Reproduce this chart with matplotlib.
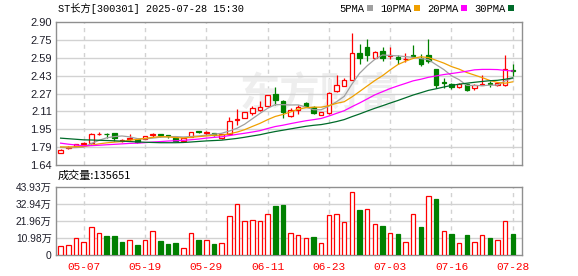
import numpy as np
import matplotlib
matplotlib.use("Agg")
import matplotlib.pyplot as plt
from matplotlib.patches import Patch

# ---------------- data ----------------
dates = ["04-29", "04-30", "05-06", "05-07", "05-08", "05-09", "05-12", "05-13", "05-14", "05-15",
         "05-16", "05-19", "05-20", "05-21", "05-22", "05-23", "05-26", "05-27", "05-28", "05-29",
         "05-30", "06-03", "06-04", "06-05", "06-06", "06-09", "06-10", "06-11", "06-12", "06-13",
         "06-16", "06-17", "06-18", "06-19", "06-20", "06-23", "06-24", "06-25", "06-26", "06-27",
         "06-30", "07-01", "07-02", "07-03", "07-04", "07-07", "07-08", "07-10", "07-11", "07-14",
         "07-15", "07-16", "07-17", "07-18", "07-21", "07-22", "07-23", "07-24", "07-25", "07-28"]

tick_dates = ["05-07", "05-19", "05-29", "06-11", "06-23", "07-03", "07-16", "07-28"]

opens = [1.750, 1.790, 1.809, 1.826, 1.830, 1.912, 1.915, 1.920, 1.855, 1.866,
         1.865, 1.871, 1.906, 1.910, 1.900, 1.874, 1.853, 1.888, 1.936, 1.925,
         1.918, 1.875, 1.912, 2.040, 2.056, 2.094, 2.123, 2.158, 2.264, 2.202,
         2.073, 2.123, 2.182, 2.147, 2.082, 2.094, 2.290, 2.340, 2.393, 2.630,
         2.677, 2.586, 2.642, 2.600, 2.592, 2.572, 2.613, 2.583, 2.607, 2.484,
         2.375, 2.352, 2.323, 2.352, 2.320, 2.348, 2.360, 2.345, 2.343, 2.480]
highs = [1.785, 1.805, 1.826, 1.841, 1.926, 1.929, 1.923, 1.922, 1.865, 1.912,
         1.868, 1.897, 1.924, 1.912, 1.906, 1.892, 1.876, 1.932, 1.940, 1.940,
         1.920, 1.912, 2.059, 2.135, 2.110, 2.158, 2.202, 2.260, 2.328, 2.210,
         2.138, 2.173, 2.196, 2.158, 2.110, 2.284, 2.431, 2.410, 2.803, 2.704,
         2.754, 2.645, 2.680, 2.680, 2.607, 2.630, 2.695, 2.622, 2.748, 2.490,
         2.410, 2.364, 2.360, 2.358, 2.355, 2.431, 2.378, 2.370, 2.607, 2.528]
lows = [1.748, 1.785, 1.806, 1.818, 1.824, 1.900, 1.882, 1.853, 1.840, 1.853,
        1.838, 1.868, 1.888, 1.883, 1.877, 1.850, 1.850, 1.885, 1.918, 1.905,
        1.898, 1.870, 1.910, 1.990, 2.050, 2.079, 2.117, 2.155, 2.173, 2.056,
        2.059, 2.085, 2.147, 2.085, 2.078, 2.090, 2.284, 2.334, 2.387, 2.534,
        2.554, 2.583, 2.554, 2.570, 2.528, 2.548, 2.586, 2.513, 2.540, 2.320,
        2.320, 2.314, 2.320, 2.293, 2.299, 2.343, 2.328, 2.340, 2.337, 2.425]
closes = [1.775, 1.800, 1.822, 1.832, 1.915, 1.917, 1.910, 1.876, 1.861, 1.876,
          1.842, 1.894, 1.910, 1.900, 1.895, 1.855, 1.874, 1.929, 1.927, 1.930,
          1.900, 1.909, 2.029, 2.048, 2.108, 2.138, 2.147, 2.255, 2.211, 2.108,
          2.123, 2.152, 2.158, 2.094, 2.108, 2.278, 2.349, 2.393, 2.630, 2.586,
          2.613, 2.633, 2.586, 2.605, 2.572, 2.578, 2.600, 2.534, 2.557, 2.349,
          2.365, 2.328, 2.358, 2.305, 2.349, 2.355, 2.350, 2.360, 2.490, 2.470]
# closes of the 29 sessions before the window (needed for the moving averages)
prior_closes = [1.95, 1.97, 1.98, 1.96, 1.99, 1.97, 1.95, 1.96, 1.97, 1.95,
                1.98, 1.97, 1.96, 1.90, 1.85, 1.82, 1.80, 1.78, 1.79, 1.80,
                1.81, 1.80, 1.82, 1.80, 1.795, 1.82, 1.81, 1.81, 1.76]

volumes = [55000, 62000, 107000, 87000, 183000, 139000, 122000, 122000, 83000, 94000,
           64000, 94000, 158000, 90000, 70000, 77000, 43000, 139000, 96000, 94000,
           70000, 75000, 254000, 331000, 222000, 228000, 222000, 267000, 314000, 324000,
           145000, 132000, 113000, 115000, 75000, 260000, 267000, 215000, 407000, 288000,
           299000, 203000, 186000, 145000, 134000, 87000, 267000, 179000, 382000, 365000,
           158000, 134000, 75000, 128000, 87000, 126000, 109000, 100000, 222000, 135651]

ma_periods = [5, 10, 20, 30]
ma_names = ["5PMA", "10PMA", "20PMA", "30PMA"]

price_ticklabels = ["1.64", "1.79", "1.95", "2.11", "2.27", "2.43", "2.59", "2.75", "2.90"]
price_range = (1.64, 2.90)
vol_ticklabels = ["0", "10.98万", "21.96万", "32.94万", "43.93万"]
vol_max = 439300

title = "ST长方[300301] 2025-07-28 15:30"
watermark = "东方财富"

# ---------------- style ----------------
RED = "#ff0000"
GREEN = "#008000"
MA_COLORS = ["#a0a0a0", "#f0a000", "#ff00ff", "#006b2a"]
GRID = "#d2d2d2"
SPINE = "#8f8f8f"
W, H = 578, 276

plt.rcParams["font.family"] = ["Liberation Sans", "Noto Sans CJK SC", "DejaVu Sans"]

o = np.array(opens); h = np.array(highs); l = np.array(lows); c = np.array(closes)
v = np.array(volumes)
n = len(c)
x = np.arange(n)
up = c >= o
prev_c = np.concatenate([[prior_closes[-1]], c[:-1]])
vol_up = c >= prev_c
allc = np.concatenate([prior_closes, c])

fig = plt.figure(figsize=(W / 100, H / 100), dpi=100)
fig.patch.set_facecolor("white")
ax = fig.add_axes([56 / W, 1 - 165 / H, 466 / W, 143 / H])
axv = fig.add_axes([56 / W, 1 - 255 / H, 466 / W, 68 / H])

tick_idx = [dates.index(d) for d in tick_dates]

for a in (ax, axv):
    a.set_xlim(-0.6, n + 0.2)
    for s in a.spines.values():
        s.set_color(SPINE)
        s.set_linewidth(1.0)
    a.set_xticks(tick_idx)
    a.tick_params(length=0)
    for xi in tick_idx:
        a.axvline(xi, color=GRID, lw=1.0, ls=(0, (3, 3)), zorder=0)

# watermark
ax.text(0.567, 0.49, watermark, transform=ax.transAxes, ha="center", va="center",
        fontsize=29, color="#eeeeee", fontweight="bold", family=["Noto Sans CJK SC"], zorder=0)

# price axis
ax.set_ylim(*price_range)
pt = np.linspace(price_range[0], price_range[1], len(price_ticklabels))
ax.set_yticks(pt)
ax.set_yticklabels(price_ticklabels, fontsize=8, color="#1e1e2a")
ax.tick_params(axis="y", pad=3)
ax.set_xticklabels([])
for yv in pt[1:-1]:
    ax.axhline(yv, color=GRID, lw=1.0, zorder=0)

bw = 0.6
body_lo = np.minimum(o, c)
body_hi = np.maximum(o, c)
cols = np.where(up, RED, GREEN)
faces = np.where(up, "white", GREEN)
ax.vlines(x, l, body_lo, colors=cols, lw=0.9, zorder=2)
ax.vlines(x, body_hi, h, colors=cols, lw=0.9, zorder=2)
ax.bar(x, body_hi - body_lo, bottom=body_lo, width=bw, color=faces, edgecolor=cols,
       linewidth=0.9, zorder=3)

for p, col in zip(ma_periods, MA_COLORS):
    ma = np.convolve(allc, np.ones(p) / p, mode="valid")[-n:]
    ax.plot(x, ma, color=col, lw=0.9, zorder=4)

# volume axis
axv.set_ylim(0, vol_max)
vt = np.linspace(0, vol_max, len(vol_ticklabels))
axv.set_yticks(vt)
axv.set_yticklabels(vol_ticklabels, fontsize=7.4, color="#1e1e2a")
axv.tick_params(axis="y", pad=3)
for yv in vt[1:-1]:
    axv.axhline(yv, color=GRID, lw=1.0, zorder=0)
vcols = np.where(vol_up, RED, GREEN)
vfaces = np.where(vol_up, "white", GREEN)
axv.bar(x, v, width=bw, color=vfaces, edgecolor=vcols, linewidth=0.9, zorder=3)
axv.set_xticklabels(tick_dates, fontsize=8, color=RED, family=["Liberation Mono"])
axv.tick_params(axis="x", pad=5)

# texts
fig.text(58 / W, 1 - 9 / H, title, fontsize=7.4, va="center", ha="left",
         family=["Liberation Mono", "Noto Sans CJK SC"])
fig.text(58 / W, 1 - 176 / H, f"成交量:{volumes[-1]}", fontsize=8, va="center", ha="left",
         family=["Noto Sans CJK SC"])

handles = [Patch(facecolor=col, edgecolor="none") for col in MA_COLORS]
leg = fig.legend(handles, ma_names, loc="center right", bbox_to_anchor=(514 / W, 1 - 9 / H),
                 bbox_transform=fig.transFigure, ncol=4, frameon=False, markerfirst=False,
                 handlelength=0.55, handleheight=0.55, handletextpad=0.25, columnspacing=0.7,
                 borderpad=0, borderaxespad=0, prop={"family": "Liberation Mono", "size": 7.6})

fig.savefig("out.png", dpi=100, facecolor="white")
